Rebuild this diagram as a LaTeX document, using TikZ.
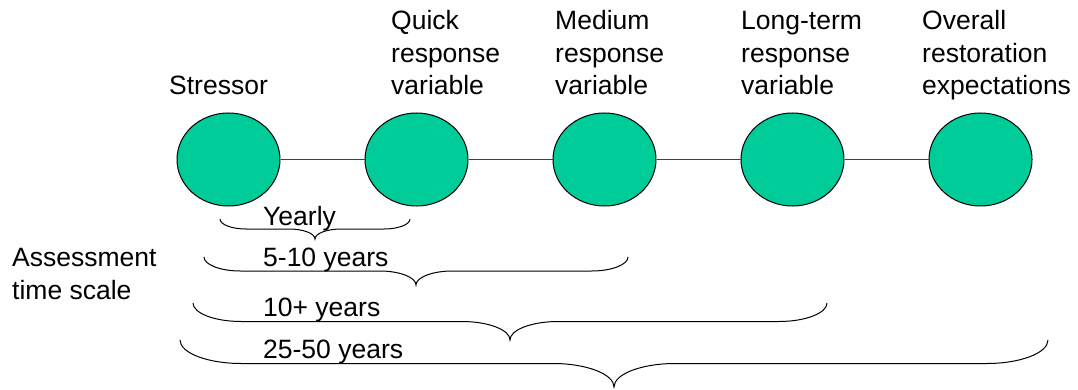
\documentclass[tikz,border=0pt]{standalone}
\usepackage{fontspec}
\setmainfont{Liberation Sans}
\usetikzlibrary{shapes.geometric}
\definecolor{bubble}{RGB}{0,204,153}
\definecolor{linkgray}{RGB}{64,64,64}

\tikzset{
  label text/.style={font=\fontsize{26.5}{32.5}\selectfont, inner sep=0pt, align=left, anchor=base west},
  stage/.style={ellipse, draw=black, line width=1pt, fill=bubble,
                minimum width=103pt, minimum height=93pt, inner sep=0pt},
  link/.style={draw=linkgray, line width=1pt},
  bracepath/.style={draw=black, line width=1pt}
}

% horizontal curly brace opening upwards:
% #1 left x, #2 right x, #3 top y, #4 half height
\newcommand\timebrace[4]{%
  \pgfmathsetmacro\bL{#1}\pgfmathsetmacro\bR{#2}%
  \pgfmathsetmacro\bT{#3}\pgfmathsetmacro\bH{#4}%
  \pgfmathsetmacro\bM{\bT+\bH}\pgfmathsetmacro\bB{\bT+2*\bH}%
  \pgfmathsetmacro\bC{(\bL+\bR)/2}\pgfmathsetmacro\bS{2.6*\bH}%
  \draw[bracepath]
    (\bL,\bT) .. controls (\bL,\bT+0.55*\bH) and (\bL+0.45*\bS,\bM) .. (\bL+\bS,\bM)
    -- (\bC-\bS,\bM) .. controls (\bC-0.45*\bS,\bM) and (\bC,\bM+0.45*\bH) .. (\bC,\bB)
    .. controls (\bC,\bM+0.45*\bH) and (\bC+0.45*\bS,\bM) .. (\bC+\bS,\bM)
    -- (\bR-\bS,\bM) .. controls (\bR-0.45*\bS,\bM) and (\bR,\bT+0.55*\bH) .. (\bR,\bT);%
}

\begin{document}
\begin{tikzpicture}[x=1pt, y=-1pt]
  \useasboundingbox (0,0) rectangle (1078,390);

  % stages of the response chain
  \node[stage] (s1) at (228.5,159.5) {};
  \node[stage] (s2) at (416.5,159.5) {};
  \node[stage] (s3) at (604.5,159.5) {};
  \node[stage] (s4) at (792.5,159.5) {};
  \node[stage] (s5) at (980.5,159.5) {};

  \draw[link] (s1) -- (s2);
  \draw[link] (s2) -- (s3);
  \draw[link] (s3) -- (s4);
  \draw[link] (s4) -- (s5);

  % stage titles (base anchor sits on the last line)
  \node[label text] (t1) at (169,95) {Stressor};
  \node[label text] (t2) at (391,95) {Quick\\response\\variable};
  \node[label text] (t3) at (555,95) {Medium\\response\\variable};
  \node[label text] (t4) at (741,95) {Long-term\\response\\variable};
  \node[label text] (t5) at (922,95) {Overall\\restoration\\expectations};

  % assessment time scales
  \node[label text] (axis) at (12,299) {Assessment\\time scale};

  \timebrace{220}{410}{219}{10}
  \timebrace{204}{628}{257}{14}
  \timebrace{193}{827}{303}{18.5}
  \timebrace{180}{1048}{340}{23.5}

  \node[label text] (y1) at (263,225) {Yearly};
  \node[label text] (y2) at (263,266) {5-10 years};
  \node[label text] (y3) at (263,316) {10+ years};
  \node[label text] (y4) at (263,358) {25-50 years};
\end{tikzpicture}
\end{document}
